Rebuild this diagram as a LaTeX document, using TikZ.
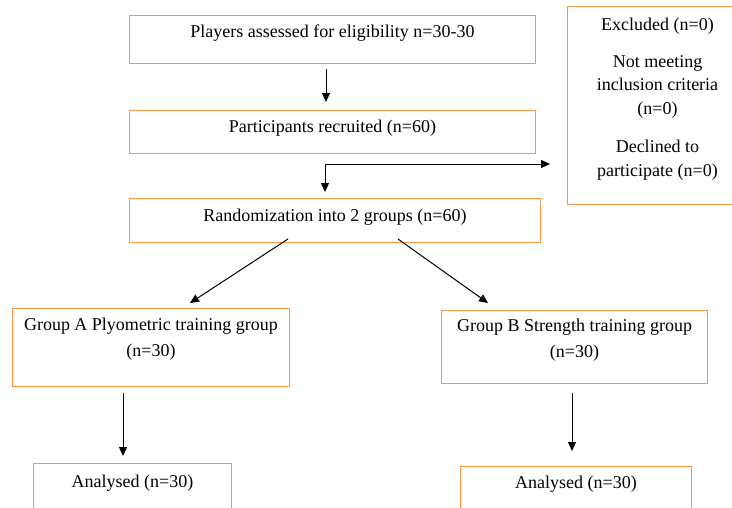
\documentclass[tikz,border=0pt]{standalone}
\usepackage{fontspec}
\setmainfont{Liberation Serif}
\usetikzlibrary{arrows.meta}
\definecolor{boxorange}{HTML}{F79646}
\tikzset{
  box/.style={draw=boxorange, line width=1pt, inner sep=0pt, anchor=north west},
  arr/.style={draw=black, line width=1pt, -{Triangle[length=9pt,width=8pt]}},
}
\newcommand{\boxtext}[4]{\parbox[c][#2][t]{#1}{\centering\fontsize{18}{23.5}\selectfont\rule{0pt}{#3}#4}}
\begin{document}
\begin{tikzpicture}[x=1pt,y=-1pt]
\clip (0,0) rectangle (732,507);
\fill[white] (0,0) rectangle (732,507);
\node[box] (elig) at (129,15) {\boxtext{406pt}{48pt}{22pt}{Players assessed for eligibility n=30-30}};
\node[box] (recr) at (129,110) {\boxtext{406pt}{43pt}{22pt}{Participants recruited (n=60)}};
\node[box] (rand) at (129,198) {\boxtext{411pt}{44pt}{23pt}{Randomization into 2 groups (n=60)}};
\node[box] (excl) at (567,6) {\boxtext{180pt}{198pt}{24pt}{Excluded (n=0)\\[13pt]Not meeting\\inclusion criteria\\(n=0)\\[15pt]Declined to\\participate (n=0)}};
\node[box] (grpA) at (12,308) {\boxtext{277pt}{78pt}{22pt}{Group A Plyometric training group\\[2.5pt](n=30)}};
\node[box] (grpB) at (441,310) {\boxtext{266pt}{73pt}{21pt}{Group B Strength training group\\[2.5pt](n=30)}};
\node[box] (anaA) at (33,463) {\boxtext{198pt}{60pt}{24pt}{Analysed (n=30)}};
\node[box] (anaB) at (460,466) {\boxtext{231pt}{60pt}{22pt}{Analysed (n=30)}};
% connector end points
\coordinate (eligOut) at (326,69);
\coordinate (recrIn) at (326,102);
\coordinate (br) at (325,164);
\coordinate (exclIn) at (550,164);
\coordinate (randIn) at (325,192);
\coordinate (randOutA) at (288,239);
\coordinate (grpAIn) at (190,303);
\coordinate (randOutB) at (398,239);
\coordinate (grpBIn) at (488,303);
\coordinate (grpAOut) at (123,393);
\coordinate (anaAIn) at (123,456);
\coordinate (grpBOut) at (572,393);
\coordinate (anaBIn) at (572,451);
\draw[arr] (eligOut) -- (recrIn);
\draw[arr] (br) -- (exclIn);
\draw[arr] (br) -- (randIn);
\draw[arr] (randOutA) -- (grpAIn);
\draw[arr] (randOutB) -- (grpBIn);
\draw[arr] (grpAOut) -- (anaAIn);
\draw[arr] (grpBOut) -- (anaBIn);
\end{tikzpicture}
\end{document}
